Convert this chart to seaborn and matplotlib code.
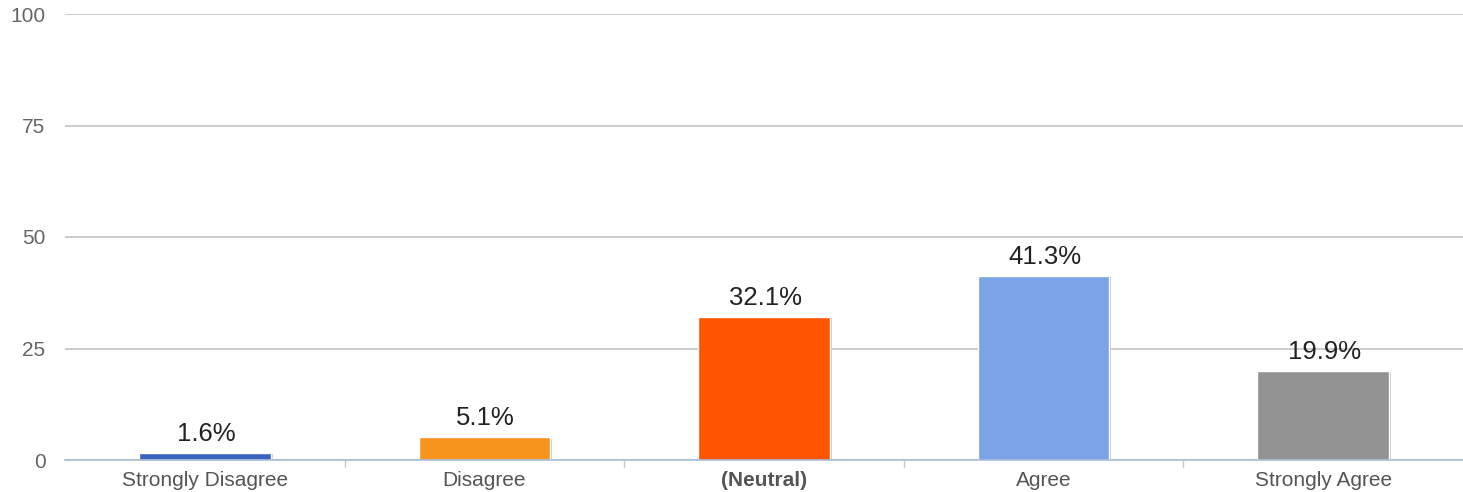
import matplotlib
matplotlib.use("Agg")
import matplotlib.pyplot as plt
import matplotlib.patheffects as pe
import seaborn as sns
import pandas as pd

categories = ["Strongly Disagree", "Disagree", "(Neutral)", "Agree", "Strongly Agree"]
values = [1.6, 5.1, 32.1, 41.3, 19.9]
value_labels = ["1.6%", "5.1%", "32.1%", "41.3%", "19.9%"]
colors = ["#3b62c0", "#f7941d", "#ff5500", "#7ba3e6", "#939393"]
yticks = [0, 25, 50, 75, 100]

sns.set_theme(style="white")
plt.rcParams["font.family"] = ["Liberation Sans", "DejaVu Sans"]

df = pd.DataFrame({"cat": categories, "val": values})

fig = plt.figure(figsize=(14.63, 4.92), dpi=100)
ax = fig.add_axes([65 / 1463, 1 - 460 / 492, 1 - 65 / 1463, (460 - 14) / 492])

sns.barplot(data=df, x="cat", y="val", hue="cat", palette=colors, order=categories,
            width=0.47, legend=False, ax=ax, zorder=3, saturation=1)

for p in ax.patches:
    p.set_path_effects([pe.SimplePatchShadow(offset=(1.5, -1), shadow_rgbFace="#c8c8c8", alpha=1.0),
                        pe.Normal()])

for i, (v, lab) in enumerate(zip(values, value_labels)):
    ax.annotate(lab, xy=(i, v), xytext=(1, 5), textcoords="offset points",
                ha="center", va="bottom", fontsize=18.5, color="#222222")

ax.set_ylim(0, 100)
ax.set_xlim(-0.5, len(categories) - 0.5)
ax.set_yticks(yticks)
ax.set_yticklabels([str(t) for t in yticks], color="#666666", fontsize=15)
ax.grid(axis="y", color="#c4c4c4", linewidth=1.2, zorder=0)
ax.grid(axis="x", visible=False)
for s in ["top", "right", "left"]:
    ax.spines[s].set_visible(False)
ax.spines["bottom"].set_color("#a9bcd6")
ax.spines["bottom"].set_linewidth(1.2)
ax.spines["bottom"].set_zorder(4)

ax.set_xticks(range(len(categories)))
ax.set_xticklabels(categories, fontsize=15, color="#555555")
for lbl in ax.get_xticklabels():
    if lbl.get_text() == "(Neutral)":
        lbl.set_fontweight("bold")
ax.tick_params(axis="x", length=0, pad=8)
ax.tick_params(axis="y", length=0, pad=14)
for b in [0.5, 1.5, 2.5, 3.5]:
    ax.plot([b, b], [0, -1.6], color="#c8c8c8", lw=1, clip_on=False, zorder=2)

ax.set_xlabel("")
ax.set_ylabel("")

fig.savefig("out.png", dpi=100)
